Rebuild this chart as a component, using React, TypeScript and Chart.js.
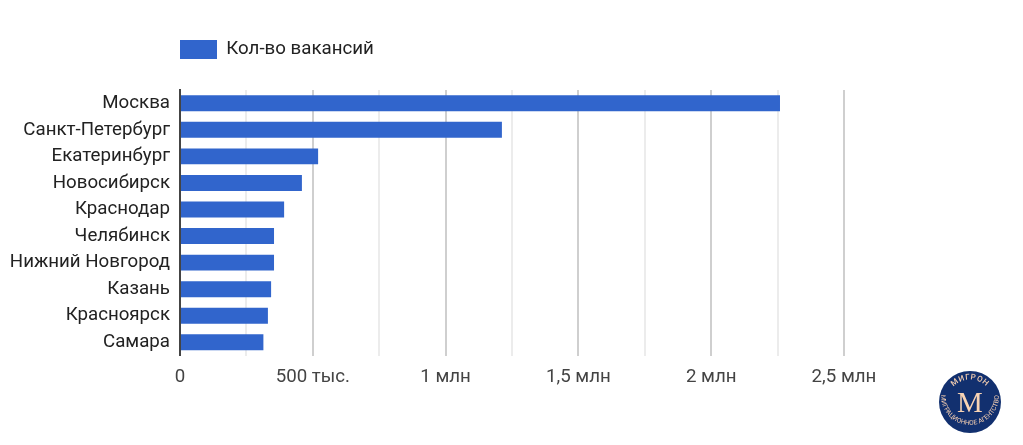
import React, { useEffect, useRef } from "react";
import { Chart, registerables } from "chart.js";

Chart.register(...registerables);

const cities = ["Москва", "Санкт-Петербург", "Екатеринбург", "Новосибирск", "Краснодар", "Челябинск", "Нижний Новгород", "Казань", "Красноярск", "Самара"];
const vacancies = [2259000, 1212000, 520000, 459000, 392000, 354000, 354000, 343000, 331000, 314000];
const seriesName = "Кол-во вакансий";
const tickNames: Record<number, string> = { 0: "0", 500000: "500 тыс.", 1000000: "1 млн", 1500000: "1,5 млн", 2000000: "2 млн", 2500000: "2,5 млн" };

const FONT = "Roboto, Arial, sans-serif";

export default function App() {
  const ref = useRef<HTMLCanvasElement>(null);
  useEffect(() => {
    const chart = new Chart(ref.current!, {
      type: "bar",
      data: {
        labels: cities,
        datasets: [{
          label: seriesName,
          data: vacancies,
          backgroundColor: "#3165cc",
          borderColor: "#3165cc",
          borderWidth: 0,
          categoryPercentage: 1,
          barPercentage: 0.6,
        }],
      },
      options: {
        indexAxis: "y",
        responsive: false,
        animation: false,
        layout: { padding: { top: 53, right: 179, bottom: 45, left: 0 } },
        plugins: {
          tooltip: { enabled: false },
          legend: {
            align: "start",
            labels: {
              boxWidth: 37,
              boxHeight: 19,
              padding: 8,
              color: "#222222",
              font: { family: FONT, size: 18.7 },
            },
          },
        },
        scales: {
          x: {
            min: 0,
            max: 2500000,
            grid: {
              drawTicks: false,
              lineWidth: 2,
              color: (c: any) => (c.tick.value === 0 ? "rgba(0,0,0,0)" : c.tick.value % 500000 === 0 ? "#cfcfcf" : "#ececec"),
            },
            border: { display: false },
            ticks: {
              stepSize: 250000,
              autoSkip: false,
              maxRotation: 0,
              padding: 11,
              color: "#444444",
              font: { family: FONT, size: 18.7 },
              callback: (v: any) => tickNames[v] ?? "",
            },
          },
          y: {
            grid: { display: false, drawTicks: false },
            border: { display: true, color: "#444444", width: 2 },
            ticks: {
              autoSkip: false,
              padding: 10,
              color: "#222222",
              font: { family: FONT, size: 18.7 },
            },
            afterFit: (s: any) => { s.width = 180; },
          },
        },
      },
      plugins: [{
        id: "legendAtPlot",
        afterLayout(c: any) {
          const l = c.legend;
          const h = l.bottom - l.top;
          l.left = 172;
          l.right = 1023;
          l.top = 32;
          l.bottom = 32 + h;
        },
      }],
    } as any);
    return () => chart.destroy();
  }, []);

  return (
    <div style={{ position: "absolute", left: 0, top: 0, width: 1023, height: 445, background: "#fff" }}>
      <canvas ref={ref} width={1023} height={445} style={{ display: "block" }} />
      <svg width={64} height={64} viewBox="0 0 64 64" style={{ position: "absolute", left: 938, top: 370 }}>
        <defs>
          <path id="arcTop" d="M 9.5 32 A 22.5 22.5 0 0 1 54.5 32" />
          <path id="arcBottom" d="M 3 26 A 29 29 0 0 0 61 26" />
        </defs>
        <circle cx={32} cy={32} r={31} fill="#12306f" />
        <text fontFamily={FONT} fontSize={8} fontWeight={500} fill="#f3cdb0" textAnchor="middle" letterSpacing={0.6}>
          <textPath href="#arcTop" startOffset="50%">МИГРОН</textPath>
        </text>
        <text fontFamily={FONT} fontSize={6.6} fill="#f3cdb0" textAnchor="middle">
          <textPath href="#arcBottom" startOffset="50%">МИГРАЦИОННОЕ АГЕНТСТВО</textPath>
        </text>
        <text x={32} y={42} fontFamily="Liberation Serif, serif" fontSize={29} fill="#f8d3b4" textAnchor="middle">М</text>
      </svg>
    </div>
  );
}
